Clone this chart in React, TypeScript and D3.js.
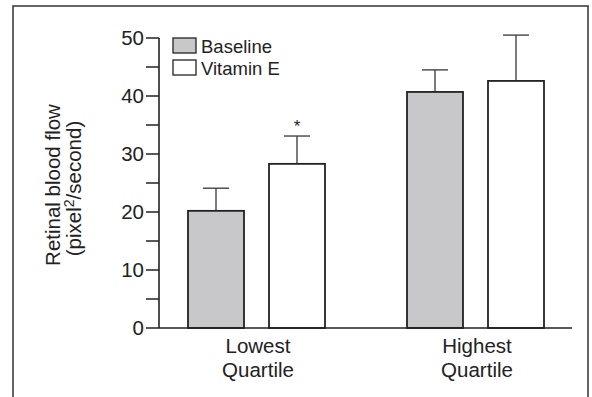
import React from 'react';
import * as d3 from 'd3';

const groups = ['Lowest Quartile', 'Highest Quartile'];
const series = ['Baseline', 'Vitamin E'];
const means = [
  [20.2, 28.3],
  [40.7, 42.6],
];
const errors = [
  [3.9, 4.8],
  [3.8, 7.9],
];
const significant = [
  [false, true],
  [false, false],
];
const fills = ['#c8c8ca', '#ffffff'];
const majorTicks = [0, 10, 20, 30, 40, 50];
const minorTicks = [5, 15, 25, 35, 45];

const WIDTH = 592;
const HEIGHT = 397;
const FONT = 'Liberation Sans, Arial, sans-serif';
const INK = '#222';

export default function App() {
  const y = d3.scaleLinear().domain([0, 50]).range([328, 38]);
  const xGroup = d3.scalePoint().domain(groups).range([256.5, 475.5]);
  const xInner = d3
    .scaleBand()
    .domain(series)
    .range([-68.5, 68.5])
    .paddingInner(25 / 81)
    .paddingOuter(0);
  const bw = xInner.bandwidth();
  const axisX = 159;
  const axisEnd = 572;
  const tickLen = 13;

  return (
    <svg
      width={WIDTH}
      height={HEIGHT}
      style={{ position: 'absolute', left: 0, top: 0, background: '#fff' }}
      fontFamily={FONT}
    >
      <rect x={0} y={0} width={WIDTH} height={HEIGHT} fill="#fff" />
      {/* frame, open at the bottom */}
      <path d="M13,400V6H588V400" fill="none" stroke="#333" strokeWidth={1.5} />

      {/* bars */}
      {groups.map((g, gi) =>
        series.map((s, si) => {
          const x0 = (xGroup(g) as number) + (xInner(s) as number);
          const cx = x0 + bw / 2;
          const top = y(means[gi][si]);
          const cap = y(means[gi][si] + errors[gi][si]);
          return (
            <g key={g + s}>
              <line x1={cx} x2={cx} y1={top} y2={cap} stroke="#444" strokeWidth={1.4} />
              <line x1={cx - 13} x2={cx + 13} y1={cap} y2={cap} stroke="#444" strokeWidth={1.4} />
              <rect
                x={x0}
                y={top}
                width={bw}
                height={y(0) - top}
                fill={fills[si]}
                stroke={INK}
                strokeWidth={1.8}
              />
              {significant[gi][si] && (
                <text x={cx} y={cap - 4} textAnchor="middle" fontSize={17} fill={INK}>
                  *
                </text>
              )}
            </g>
          );
        })
      )}

      {/* y axis */}
      <line x1={axisX} x2={axisX} y1={y(50)} y2={y(0)} stroke={INK} strokeWidth={1.6} />
      {majorTicks.map((t) => (
        <g key={'M' + t}>
          <line x1={axisX - tickLen} x2={axisX} y1={y(t)} y2={y(t)} stroke={INK} strokeWidth={1.5} />
          <text x={axisX - tickLen - 2} y={y(t)} dy="0.35em" textAnchor="end" fontSize={20.5} fill={INK}>
            {t}
          </text>
        </g>
      ))}
      {minorTicks.map((t) => (
        <line key={'m' + t} x1={axisX - tickLen} x2={axisX} y1={y(t)} y2={y(t)} stroke={INK} strokeWidth={1.5} />
      ))}

      {/* x axis */}
      <line x1={axisX} x2={axisEnd} y1={y(0)} y2={y(0)} stroke={INK} strokeWidth={1.6} />
      {groups.map((g) => {
        const [a, b] = g.split(' ');
        return (
          <text key={g} x={xGroup(g)} textAnchor="middle" fontSize={20.5} fill={INK}>
            <tspan x={(xGroup(g) as number) + 1.5} y={353}>{a}</tspan>
            <tspan x={(xGroup(g) as number) + 1.5} y={377}>{b}</tspan>
          </text>
        );
      })}

      {/* y axis title */}
      <text transform="translate(60,185) rotate(-90)" textAnchor="middle" fontSize={20.5} fill={INK}>
        Retinal blood flow
      </text>
      <text transform="translate(81,188.5) rotate(-90)" textAnchor="middle" fontSize={20.5} fill={INK}>
        (pixel<tspan fontSize={14} dy={-7}>2</tspan>
        <tspan dy={7}>/second)</tspan>
      </text>

      {/* legend */}
      {series.map((s, i) => (
        <g key={s} transform={`translate(173,${38 + i * 22})`}>
          <rect x={0} y={0} width={23} height={15} fill={fills[i]} stroke={INK} strokeWidth={1.3} />
          <text x={28} y={15} fontSize={18.5} fill={INK}>
            {s}
          </text>
        </g>
      ))}
    </svg>
  );
}
